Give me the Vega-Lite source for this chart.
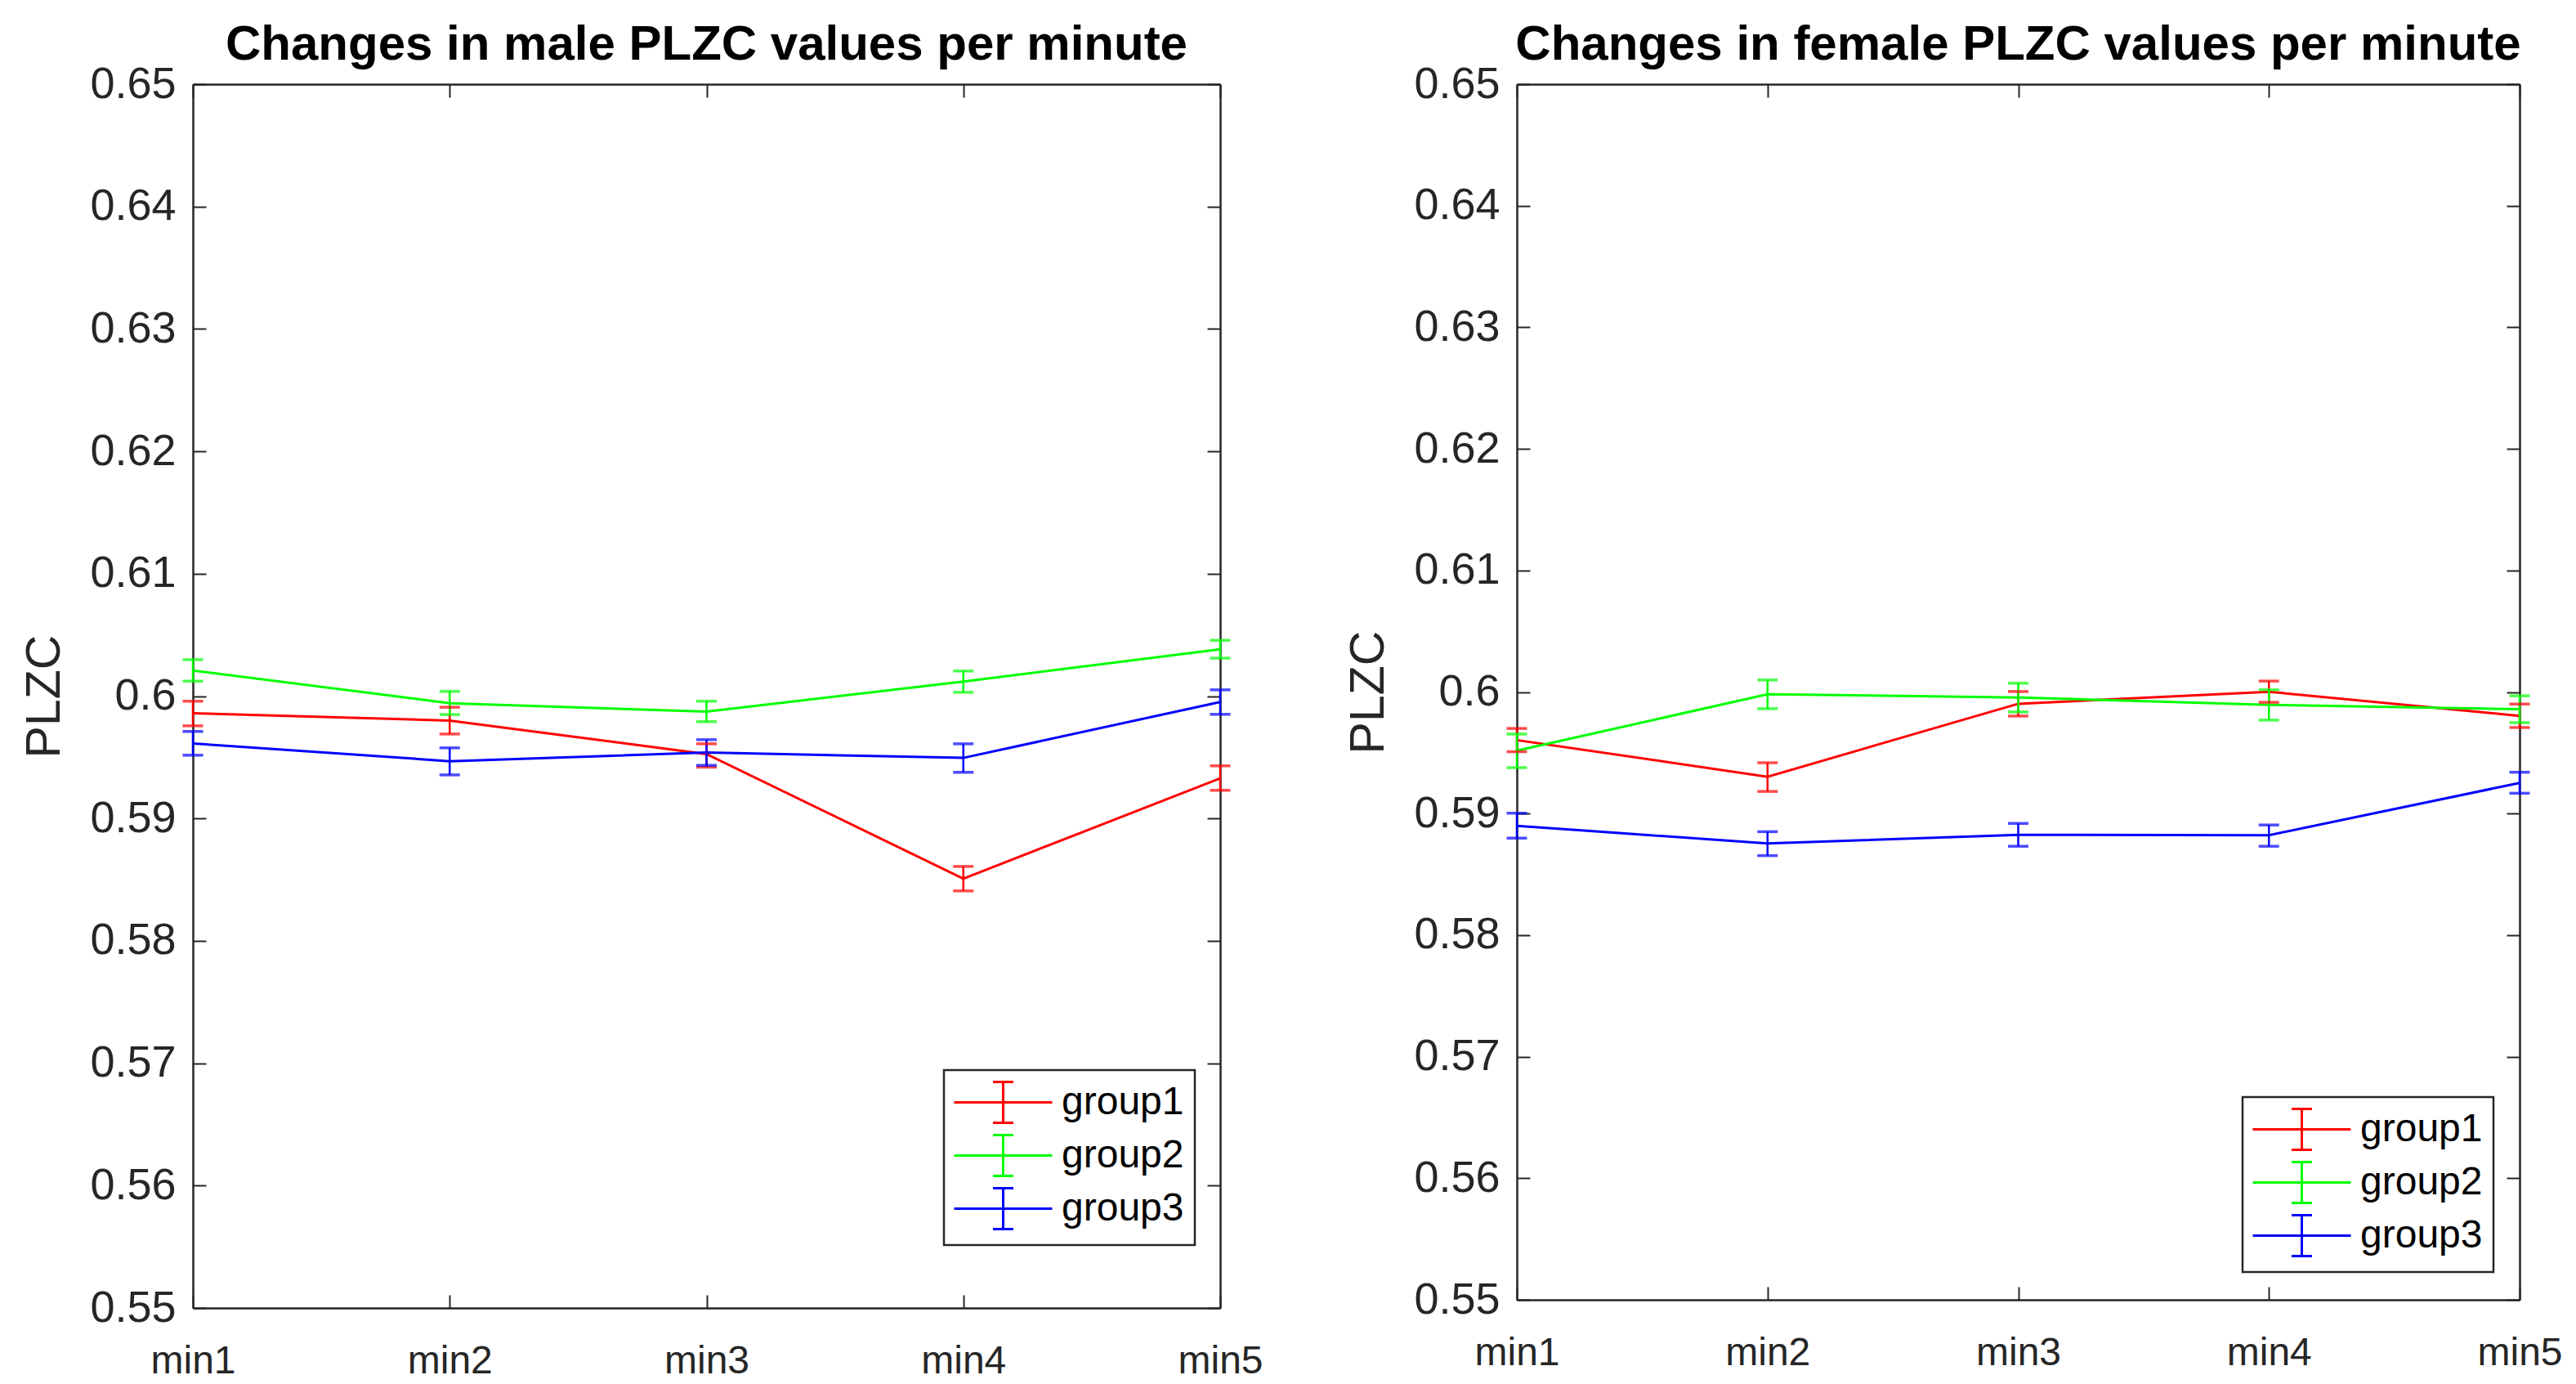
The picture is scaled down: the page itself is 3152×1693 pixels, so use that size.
{
  "$schema": "https://vega.github.io/schema/vega-lite/v6.json",
  "background": "white",
  "padding": {"left": 25, "top": 25, "right": 10, "bottom": 5},
  "spacing": 363,
  "bounds": "flush",
  "datasets": {
    "male": [
      {"group": "group1", "minute": "min1", "mean": 0.5986, "lo": 0.59757, "hi": 0.59958},
      {"group": "group1", "minute": "min2", "mean": 0.5980, "lo": 0.59690, "hi": 0.59909},
      {"group": "group1", "minute": "min3", "mean": 0.59526, "lo": 0.59419, "hi": 0.59610},
      {"group": "group1", "minute": "min4", "mean": 0.58508, "lo": 0.58408, "hi": 0.58608},
      {"group": "group1", "minute": "min5", "mean": 0.59328, "lo": 0.59230, "hi": 0.59430},
      {"group": "group2", "minute": "min1", "mean": 0.60209, "lo": 0.60122, "hi": 0.60298},
      {"group": "group2", "minute": "min2", "mean": 0.59942, "lo": 0.59849, "hi": 0.60038},
      {"group": "group2", "minute": "min3", "mean": 0.59873, "lo": 0.59791, "hi": 0.59958},
      {"group": "group2", "minute": "min4", "mean": 0.60118, "lo": 0.60031, "hi": 0.60205},
      {"group": "group2", "minute": "min5", "mean": 0.60383, "lo": 0.60310, "hi": 0.60456},
      {"group": "group3", "minute": "min1", "mean": 0.59613, "lo": 0.59517, "hi": 0.59711},
      {"group": "group3", "minute": "min2", "mean": 0.59468, "lo": 0.59356, "hi": 0.59577},
      {"group": "group3", "minute": "min3", "mean": 0.59539, "lo": 0.59434, "hi": 0.59644},
      {"group": "group3", "minute": "min4", "mean": 0.59495, "lo": 0.59377, "hi": 0.59610},
      {"group": "group3", "minute": "min5", "mean": 0.59951, "lo": 0.59851, "hi": 0.60051}
    ],
    "female": [
      {"group": "group1", "minute": "min1", "mean": 0.59604, "lo": 0.59509, "hi": 0.59700},
      {"group": "group1", "minute": "min2", "mean": 0.59303, "lo": 0.59182, "hi": 0.59418},
      {"group": "group1", "minute": "min3", "mean": 0.59903, "lo": 0.59802, "hi": 0.60004},
      {"group": "group1", "minute": "min4", "mean": 0.60002, "lo": 0.59915, "hi": 0.60090},
      {"group": "group1", "minute": "min5", "mean": 0.59804, "lo": 0.59708, "hi": 0.59901},
      {"group": "group2", "minute": "min1", "mean": 0.59517, "lo": 0.59378, "hi": 0.59654},
      {"group": "group2", "minute": "min2", "mean": 0.59982, "lo": 0.59863, "hi": 0.60099},
      {"group": "group2", "minute": "min3", "mean": 0.59955, "lo": 0.59836, "hi": 0.60072},
      {"group": "group2", "minute": "min4", "mean": 0.59894, "lo": 0.59769, "hi": 0.60018},
      {"group": "group2", "minute": "min5", "mean": 0.59858, "lo": 0.59748, "hi": 0.59969},
      {"group": "group3", "minute": "min1", "mean": 0.58899, "lo": 0.58798, "hi": 0.59003},
      {"group": "group3", "minute": "min2", "mean": 0.58755, "lo": 0.58654, "hi": 0.58851},
      {"group": "group3", "minute": "min3", "mean": 0.58825, "lo": 0.58731, "hi": 0.58919},
      {"group": "group3", "minute": "min4", "mean": 0.58822, "lo": 0.58731, "hi": 0.58906},
      {"group": "group3", "minute": "min5", "mean": 0.59252, "lo": 0.59167, "hi": 0.59340}
    ]
  },
  "hconcat": [
    {
      "width": 1257,
      "height": 1497,
      "data": {"name": "male"},
      "title": {"text": "Changes in male PLZC values per minute"},
      "layer": [
        {
          "mark": {"type": "line", "strokeWidth": 3},
          "encoding": {
            "x": {"field": "minute", "type": "ordinal", "sort": ["min1", "min2", "min3", "min4", "min5"], "scale": {"type": "point", "padding": 0},
                  "axis": {"orient": "bottom", "title": null, "labelAngle": 0, "labelFontSize": 48, "labelPadding": 57, "tickSize": -16}},
            "y": {"field": "mean", "type": "quantitative", "scale": {"domain": [0.55, 0.65], "zero": false, "nice": false},
                  "axis": {"orient": "left", "title": "PLZC", "values": [0.55, 0.56, 0.57, 0.58, 0.59, 0.6, 0.61, 0.62, 0.63, 0.64, 0.65], "format": ".2~f", "labelFontSize": 54, "labelPadding": 37, "tickSize": -16, "titleFontSize": 59, "titlePadding": 25}},
            "color": {"field": "group", "type": "nominal", "scale": {"domain": ["group1", "group2", "group3"], "range": ["#ff0000", "#00ff00", "#0000ff"]},
                      "legend": {"orient": "none", "legendX": 919, "legendY": 1206, "title": null}}
          }
        },
        {
          "mark": {"type": "rule", "strokeWidth": 2.5},
          "encoding": {
            "x": {"field": "minute", "type": "ordinal", "sort": ["min1", "min2", "min3", "min4", "min5"], "axis": null},
            "y": {"field": "lo", "type": "quantitative", "axis": null},
            "y2": {"field": "hi"},
            "color": {"field": "group", "type": "nominal", "legend": null}
          }
        },
        {
          "mark": {"type": "tick", "orient": "horizontal", "size": 25, "thickness": 3.5},
          "encoding": {
            "x": {"field": "minute", "type": "ordinal", "sort": ["min1", "min2", "min3", "min4", "min5"], "axis": null},
            "y": {"field": "lo", "type": "quantitative", "axis": null},
            "color": {"field": "group", "type": "nominal", "legend": null}
          }
        },
        {
          "mark": {"type": "tick", "orient": "horizontal", "size": 25, "thickness": 3.5},
          "encoding": {
            "x": {"field": "minute", "type": "ordinal", "sort": ["min1", "min2", "min3", "min4", "min5"], "axis": null},
            "y": {"field": "hi", "type": "quantitative", "axis": null},
            "color": {"field": "group", "type": "nominal", "legend": null}
          }
        },
        {
          "mark": {"type": "point", "opacity": 0},
          "encoding": {
            "x": {"field": "minute", "type": "ordinal", "sort": ["min1", "min2", "min3", "min4", "min5"],
                  "axis": {"orient": "top", "title": null, "labels": false, "tickSize": -16}},
            "y": {"field": "mean", "type": "quantitative",
                  "axis": {"orient": "right", "title": null, "labels": false, "tickSize": -16, "values": [0.55, 0.56, 0.57, 0.58, 0.59, 0.6, 0.61, 0.62, 0.63, 0.64, 0.65]}}
          }
        }
      ],
      "resolve": {"axis": {"x": "independent", "y": "independent"}}
    },
    {
      "width": 1227,
      "height": 1487,
      "data": {"name": "female"},
      "title": {"text": "Changes in female PLZC values per minute"},
      "layer": [
        {
          "mark": {"type": "line", "strokeWidth": 3},
          "encoding": {
            "x": {"field": "minute", "type": "ordinal", "sort": ["min1", "min2", "min3", "min4", "min5"], "scale": {"type": "point", "padding": 0},
                  "axis": {"orient": "bottom", "title": null, "labelAngle": 0, "labelFontSize": 48, "labelPadding": 57, "tickSize": -16}},
            "y": {"field": "mean", "type": "quantitative", "scale": {"domain": [0.55, 0.65], "zero": false, "nice": false},
                  "axis": {"orient": "left", "title": "PLZC", "values": [0.55, 0.56, 0.57, 0.58, 0.59, 0.6, 0.61, 0.62, 0.63, 0.64, 0.65], "format": ".2~f", "labelFontSize": 54, "labelPadding": 37, "tickSize": -16, "titleFontSize": 59, "titlePadding": 25}},
            "color": {"field": "group", "type": "nominal", "scale": {"domain": ["group1", "group2", "group3"], "range": ["#ff0000", "#00ff00", "#0000ff"]},
                      "legend": {"orient": "none", "legendX": 888, "legendY": 1239, "title": null}}
          }
        },
        {
          "mark": {"type": "rule", "strokeWidth": 2.5},
          "encoding": {
            "x": {"field": "minute", "type": "ordinal", "sort": ["min1", "min2", "min3", "min4", "min5"], "axis": null},
            "y": {"field": "lo", "type": "quantitative", "axis": null},
            "y2": {"field": "hi"},
            "color": {"field": "group", "type": "nominal", "legend": null}
          }
        },
        {
          "mark": {"type": "tick", "orient": "horizontal", "size": 25, "thickness": 3.5},
          "encoding": {
            "x": {"field": "minute", "type": "ordinal", "sort": ["min1", "min2", "min3", "min4", "min5"], "axis": null},
            "y": {"field": "lo", "type": "quantitative", "axis": null},
            "color": {"field": "group", "type": "nominal", "legend": null}
          }
        },
        {
          "mark": {"type": "tick", "orient": "horizontal", "size": 25, "thickness": 3.5},
          "encoding": {
            "x": {"field": "minute", "type": "ordinal", "sort": ["min1", "min2", "min3", "min4", "min5"], "axis": null},
            "y": {"field": "hi", "type": "quantitative", "axis": null},
            "color": {"field": "group", "type": "nominal", "legend": null}
          }
        },
        {
          "mark": {"type": "point", "opacity": 0},
          "encoding": {
            "x": {"field": "minute", "type": "ordinal", "sort": ["min1", "min2", "min3", "min4", "min5"],
                  "axis": {"orient": "top", "title": null, "labels": false, "tickSize": -16}},
            "y": {"field": "mean", "type": "quantitative",
                  "axis": {"orient": "right", "title": null, "labels": false, "tickSize": -16, "values": [0.55, 0.56, 0.57, 0.58, 0.59, 0.6, 0.61, 0.62, 0.63, 0.64, 0.65]}}
          }
        }
      ],
      "resolve": {"axis": {"x": "independent", "y": "independent"}}
    }
  ],
  "resolve": {"scale": {"color": "independent"}, "legend": {"color": "independent"}},
  "config": {
    "font": "Liberation Sans",
    "view": {"stroke": null},
    "title": {"font": "Liberation Sans", "fontSize": 60, "fontWeight": "bold", "color": "#000000", "offset": -10, "anchor": "middle"},
    "axis": {
      "labelFont": "Liberation Sans", "titleFont": "Liberation Sans",
      "labelColor": "#262626", "titleColor": "#262626", "titleFontWeight": "normal",
      "domainColor": "#262626", "domainWidth": 2.5, "tickColor": "#262626", "tickWidth": 2,
      "grid": false, "labelFlush": false, "labelOverlap": false
    },
    "legend": {
      "labelFont": "Liberation Sans", "labelFontSize": 48, "labelColor": "#000000",
      "symbolType": "M-2.4,0H2.4M0,-1V1M-0.5,-1H0.5M-0.5,1H0.5",
      "symbolSize": 2500, "symbolStrokeWidth": 3, "symbolFillColor": "transparent",
      "symbolOffset": 33, "labelOffset": 45, "padding": 13, "rowPadding": 2,
      "strokeColor": "#262626", "strokeWidth": 2.5, "fillColor": "#ffffff"
    }
  }
}
